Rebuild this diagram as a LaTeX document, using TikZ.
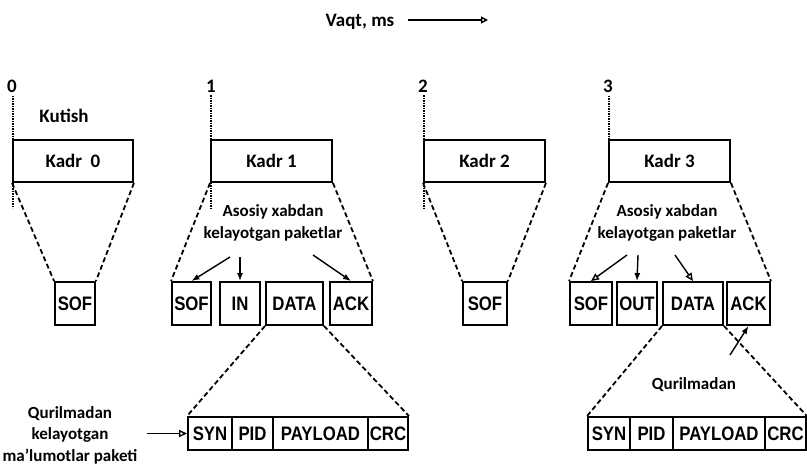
\documentclass[tikz,border=0pt]{standalone}
\usepackage{fontspec}
\setmainfont{Carlito}
\newfontfamily\pkfont[FakeStretch=0.86]{Liberation Sans}
\usetikzlibrary{arrows.meta}
\tikzset{
  lbl/.style={font=\bfseries\fontsize{19}{21}\selectfont, inner sep=0pt, align=center},
  ann/.style={font=\bfseries\fontsize{17}{21.5}\selectfont, inner sep=0pt, align=center},
  kadr/.style={draw, line width=1.9pt, minimum height=42pt, inner sep=0pt, font=\bfseries\fontsize{19}{21}\selectfont},
  pk/.style={draw, line width=1.9pt, minimum height=43pt, inner sep=0pt, font=\pkfont\bfseries\fontsize{19.5}{21}\selectfont},
  bar/.style={draw, line width=1.9pt, minimum height=33pt, inner sep=0pt, font=\pkfont\bfseries\fontsize{19.5}{21}\selectfont},
  dsh/.style={line width=1.8pt, dash pattern=on 5pt off 3pt},
  vline/.style={line width=1.4pt, dash pattern=on 1.5pt off 1pt},
  arr/.style={line width=1.4pt, -{Latex[length=8pt,width=6pt]}},
  oarr/.style={line width=1.4pt, -{Triangle[open,length=8pt,width=7pt]}}
}
\begin{document}
\begin{tikzpicture}[x=1pt,y=-1pt]
\useasboundingbox (0,0) rectangle (807,467);
% time axis
\node[lbl] (vt) at (360,22) {Vaqt, ms};
\coordinate (a1) at (408,20);
\coordinate (a2) at (488,20);
\draw[line width=1.4pt, -{Triangle[open,length=7pt,width=7pt]}] (a1) -- (a2);
% time labels
\node[lbl] (t0) at (12,86) {0};
\node[lbl] (t1) at (211,86) {1};
\node[lbl] (t2) at (423,86) {2};
\node[lbl] (t3) at (608,86) {3};
\coordinate (e0) at (13,208);
\coordinate (e1) at (211,210);
\coordinate (e2) at (424,208);
\coordinate (e3) at (609,140);
\draw[vline] ([yshift=-3pt]t0.south -| e0) -- (e0);
\draw[vline] ([yshift=-3pt]t1.south -| e1) -- (e1);
\draw[vline] ([yshift=-3pt]t2.south -| e2) -- (e2);
\draw[vline] ([yshift=-3pt]t3.south -| e3) -- (e3);
\node[lbl] (kut) at (64,116) {Kutish};
% frames
\node[kadr, minimum width=120pt, fill=white] (k0) at (73,161) {Kadr\ \ 0};
\node[kadr, minimum width=121pt, fill=white] (k1) at (271.5,161) {Kadr 1};
\node[kadr, minimum width=121pt, fill=white] (k2) at (484.5,161) {Kadr 2};
\node[kadr, minimum width=121pt, fill=white] (k3) at (669.5,161) {Kadr 3};
% packets
\node[pk, minimum width=40pt] (s0) at (75,303.5) {SOF};
\node[pk, minimum width=39pt] (s1) at (191.5,303.5) {SOF};
\node[pk, minimum width=40pt] (in1) at (240,303.5) {IN};
\node[pk, minimum width=57pt] (d1) at (294.5,303.5) {DATA};
\node[pk, minimum width=42pt] (ack1) at (351,303.5) {ACK};
\node[pk, minimum width=44pt] (s2) at (485,303.5) {SOF};
\node[pk, minimum width=42pt] (s3) at (591,303.5) {SOF};
\node[pk, minimum width=40pt] (out3) at (637,303.5) {OUT};
\node[pk, minimum width=60pt] (d3) at (693,303.5) {DATA};
\node[pk, minimum width=43pt] (ack3) at (748.5,303.5) {ACK};
% data packets
\node[bar, minimum width=44pt] (syn1) at (210,433.5) {SYN};
\node[bar, minimum width=41pt] (pid1) at (252.5,433.5) {PID};
\node[bar, minimum width=95pt] (pay1) at (320.5,433.5) {PAYLOAD};
\node[bar, minimum width=40pt] (crc1) at (388,433.5) {CRC};
\node[bar, minimum width=42pt] (syn3) at (609,433.5) {SYN};
\node[bar, minimum width=43pt] (pid3) at (651.5,433.5) {PID};
\node[bar, minimum width=92pt] (pay3) at (719,433.5) {PAYLOAD};
\node[bar, minimum width=41pt] (crc3) at (785.5,433.5) {CRC};
% expansion lines
\draw[dsh] (k0.south west) -- (s0.north west);
\draw[dsh] (k0.south east) -- (s0.north east);
\draw[dsh] (k1.south west) -- (s1.north west);
\draw[dsh] (k1.south east) -- (ack1.north east);
\draw[dsh] (k2.south west) -- (s2.north west);
\draw[dsh] (k2.south east) -- (s2.north east);
\draw[dsh] (k3.south west) -- (s3.north west);
\draw[dsh] (k3.south east) -- (ack3.north east);
\draw[dsh] (d1.south west) -- (syn1.north west);
\draw[dsh] (d1.south east) -- (crc1.north east);
\draw[dsh] (d3.south west) -- (syn3.north west);
\draw[dsh] (d3.south east) -- (crc3.north east);
% annotations
\node[ann] (ann1) at (273,223) {Asosiy xabdan\\kelayotgan paketlar};
\node[ann] (ann3) at (667,223) {Asosiy xabdan\\kelayotgan paketlar};
\coordinate (p1) at (230,257);
\coordinate (p2) at (240,257);
\coordinate (p3) at (313,255);
\draw[arr] (p1) -- (s1.north);
\draw[arr] (p2) -- (in1.north);
\draw[arr] (p3) -- (ack1.north);
\coordinate (q1) at (627,255);
\coordinate (q2) at (638,255);
\coordinate (q3) at (675,255);
\draw[oarr] (q1) -- (s3.north);
\draw[arr] (q2) -- (out3.north);
\draw[oarr] (q3) -- (d3.north);
% device annotations
\node[ann] (dev1) at (70,435) {Qurilmadan\\kelayotgan\\ma\char"0027 lumotlar paketi};
\coordinate (da) at (147,433.5);
\draw[oarr] (da) -- (syn1.west);
\node[ann] (dev3) at (694,385) {Qurilmadan};
\coordinate (db) at (730,355);
\draw[arr] (db) -- (ack3.south);
\end{tikzpicture}
\end{document}
